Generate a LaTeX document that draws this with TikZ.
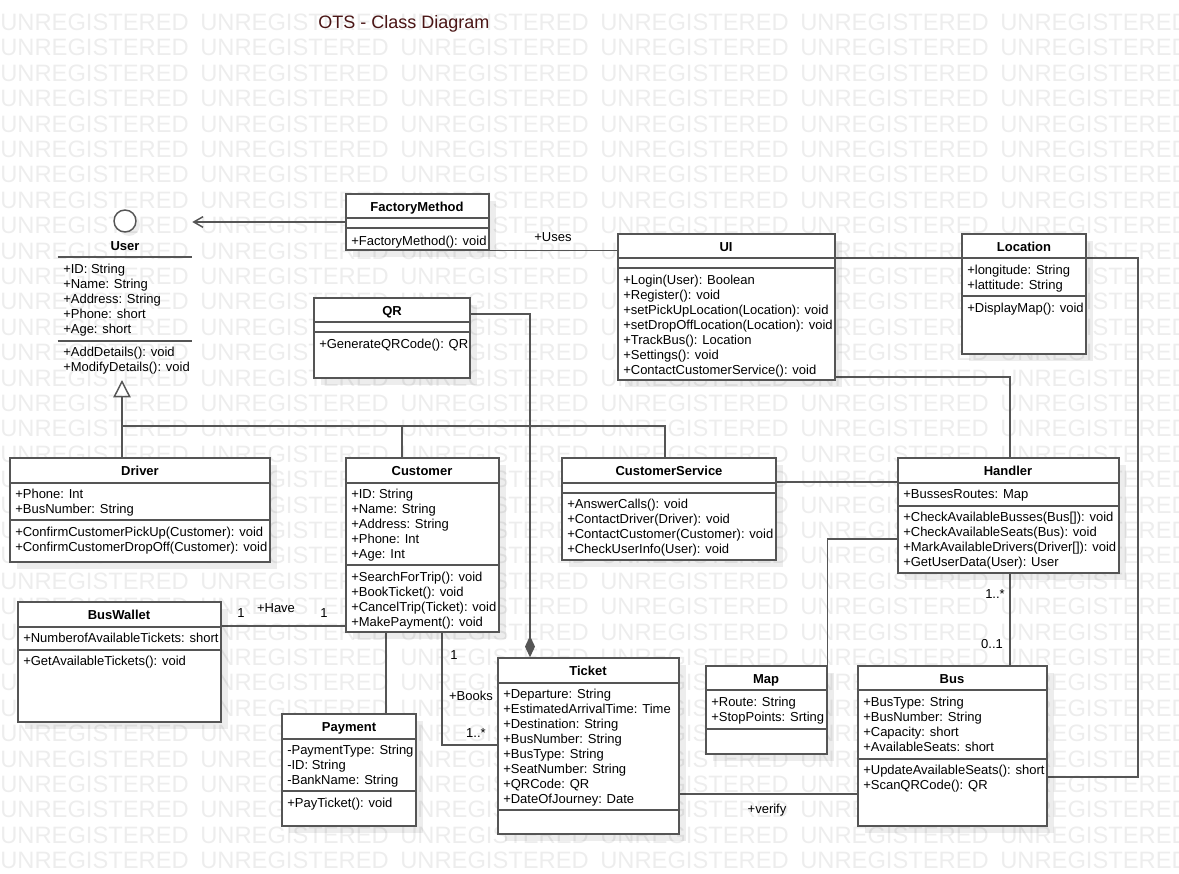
\documentclass[tikz,border=0pt]{standalone}
\usepackage{fontspec}
\setmainfont{Liberation Sans}
\usepackage{xcolor}
\usetikzlibrary{arrows.meta,fit,shadows,backgrounds}

\definecolor{edgegray}{HTML}{555555}
\definecolor{markgray}{HTML}{EDEDED}
\definecolor{titlebrown}{HTML}{4A1515}

\tikzset{
  classbox/.style={draw=edgegray, line width=1.1pt, fill=white, inner sep=0pt,
    drop shadow={shadow xshift=5pt, shadow yshift=-5pt, fill=black, opacity=0.07}},
  sepline/.style={draw=edgegray, line width=1.1pt},
  link/.style={draw=edgegray, line width=1.1pt},
  cname/.style={font=\bfseries\fontsize{9.75}{11.25}\selectfont, anchor=base, inner sep=0pt},
  members/.style={font=\fontsize{9.75}{11.25}\selectfont, anchor=north west, align=left, inner sep=0pt, yshift=-0.75pt},
  role/.style={font=\fontsize{9.75}{11.25}\selectfont, anchor=base, inner sep=0pt},
  wmark/.style={font=\fontsize{17.8}{20}\selectfont, text=markgray, anchor=base west, inner sep=0pt}
}

\newcommand{\classlines}[2]{\foreach \yy in {#2}{\draw[sepline] (#1.west |- 0,\yy) -- (#1.east |- 0,\yy);}}

\begin{document}
\begin{tikzpicture}[x=0.75pt, y=-0.75pt]
    \useasboundingbox (0,0) rectangle (1179,874);
    \begin{scope}[on background layer]
        \foreach \r in {0,...,33}{
        \foreach \c in {0,...,5}{
        \node[wmark] (wm-\r-\c) at (200*\c, 30.5+25.4*\r) {UNREGISTERED};}}
    \end{scope}
    \node[font=\fontsize{13.5}{16}\selectfont, text=titlebrown, anchor=base, inner sep=0pt] (diagram-title) at (404,28.5) {OTS - Class Diagram};

    % User interface
    \node[draw=edgegray, line width=1.1pt, fill=white, circle, minimum size=16.5pt, inner sep=0pt,
      drop shadow={shadow xshift=3pt, shadow yshift=-3pt, fill=black, opacity=0.07}] (user-icon) at (125,221) {};
    \node[inner sep=0pt, fit={(58,205) (192,380)}] (user) {};
    \node[cname] (user-name) at (125,250) {User};
    \node[members] (user-attrs) at (63,263) {+ID: String\\+Name: String\\+Address: String\\+Phone: short\\+Age: short};
    \node[members] (user-ops) at (63,346) {+AddDetails(): void\\+ModifyDetails(): void};
    \classlines{user}{257,341}

    % classes
    \node[classbox, fit={(346,194) (489,250)}] (fm) {};
    \node[cname] (fm-name) at (417,211) {FactoryMethod};
    \node[members] (fm-ops) at (351,235) {+FactoryMethod(): void};
    \classlines{fm}{218,228}

    \node[classbox, fit={(618,234) (835,380)}] (ui) {};
    \node[cname] (ui-name) at (726,251) {UI};
    \node[members] (ui-ops) at (623,274) {+Login(User): Boolean\\+Register(): void\\+setPickUpLocation(Location): void\\+setDropOffLocation(Location): void\\+TrackBus(): Location\\+Settings(): void\\+ContactCustomerService(): void};
    \classlines{ui}{258,268}

    \node[classbox, fit={(962,234) (1086,354)}] (loc) {};
    \node[cname] (loc-name) at (1024,251) {Location};
    \node[members] (loc-attrs) at (967,264) {+longitude: String\\+lattitude: String};
    \node[members] (loc-ops) at (967,302) {+DisplayMap(): void};
    \classlines{loc}{258,296}

    \node[classbox, fit={(314,298) (470,378)}] (qr) {};
    \node[cname] (qr-name) at (392,315) {QR};
    \node[members] (qr-ops) at (319,338) {+GenerateQRCode(): QR};
    \classlines{qr}{322,332}

    \node[classbox, fit={(10,458) (270,562)}] (driver) {};
    \node[cname] (driver-name) at (140,475) {Driver};
    \node[members] (driver-attrs) at (15,488) {+Phone: Int\\+BusNumber: String};
    \node[members] (driver-ops) at (15,526) {+ConfirmCustomerPickUp(Customer): void\\+ConfirmCustomerDropOff(Customer): void};
    \classlines{driver}{483,520}

    \node[classbox, fit={(346,458) (499,632)}] (customer) {};
    \node[cname] (customer-name) at (422,475) {Customer};
    \node[members] (customer-attrs) at (351,488) {+ID: String\\+Name: String\\+Address: String\\+Phone: Int\\+Age: Int};
    \node[members] (customer-ops) at (351,571) {+SearchForTrip(): void\\+BookTicket(): void\\+CancelTrip(Ticket): void\\+MakePayment(): void};
    \classlines{customer}{483,565}

    \node[classbox, fit={(562,458) (776,560)}] (cs) {};
    \node[cname] (cs-name) at (669,475) {CustomerService};
    \node[members] (cs-ops) at (567,498) {+AnswerCalls(): void\\+ContactDriver(Driver): void\\+ContactCustomer(Customer): void\\+CheckUserInfo(User): void};
    \classlines{cs}{483,493}

    \node[classbox, fit={(898,458) (1119,573)}] (handler) {};
    \node[cname] (handler-name) at (1008,475) {Handler};
    \node[members] (handler-attrs) at (903,488) {+BussesRoutes: Map};
    \node[members] (handler-ops) at (903,511) {+CheckAvailableBusses(Bus[]): void\\+CheckAvailableSeats(Bus): void\\+MarkAvailableDrivers(Driver[]): void\\+GetUserData(User): User};
    \classlines{handler}{483,506}

    \node[classbox, fit={(18,602) (221,722)}] (wallet) {};
    \node[cname] (wallet-name) at (119,619) {BusWallet};
    \node[members] (wallet-attrs) at (23,632) {+NumberofAvailableTickets: short};
    \node[members] (wallet-ops) at (23,655) {+GetAvailableTickets(): void};
    \classlines{wallet}{627,650}

    \node[classbox, fit={(282,714) (416,826)}] (payment) {};
    \node[cname] (payment-name) at (349,731) {Payment};
    \node[members] (payment-attrs) at (287,744) {-PaymentType: String\\-ID: String\\-BankName: String};
    \node[members] (payment-ops) at (287,797) {+PayTicket(): void};
    \classlines{payment}{739,791}

    \node[classbox, fit={(498,658) (679,834)}] (ticket) {};
    \node[cname] (ticket-name) at (588,675) {Ticket};
    \node[members] (ticket-attrs) at (503,688) {+Departure: String\\+EstimatedArrivalTime: Time\\+Destination: String\\+BusNumber: String\\+BusType: String\\+SeatNumber: String\\+QRCode: QR\\+DateOfJourney: Date};
    \classlines{ticket}{683,810}

    \node[classbox, fit={(706,666) (827,754)}] (map) {};
    \node[cname] (map-name) at (766,683) {Map};
    \node[members] (map-attrs) at (711,696) {+Route: String\\+StopPoints: Srting};
    \classlines{map}{690,729}

    \node[classbox, fit={(858,666) (1047,826)}] (bus) {};
    \node[cname] (bus-name) at (952,683) {Bus};
    \node[members] (bus-attrs) at (863,696) {+BusType: String\\+BusNumber: String\\+Capacity: short\\+AvailableSeats: short};
    \node[members] (bus-ops) at (863,764) {+UpdateAvailableSeats(): short\\+ScanQRCode(): QR};
    \classlines{bus}{690,759}

    % relations
    \coordinate (gen-tip) at (122,380);
    \coordinate (gen-bar) at (122,426);
    \begin{scope}[on background layer]
        \draw[link, -{Straight Barb[length=7pt, width=8pt]}] (fm.west) -- (fm.west -| user.east);
        \draw[link] (fm.south east) -- (fm.south east -| ui.west);
        \draw[link] (ui.east |- 0,258) -- (1138,258) |- (bus.east |- 0,777);
        \draw[link] (ui.east |- 0,377) -| (handler.north -| 1010,0);
        \draw[link, -{Diamond[length=16pt, width=7.5pt]}] (qr.east |- 0,314) -| (ticket.north -| 530,0);
        \draw[link, -{Triangle[open, length=13pt, width=13pt]}] (gen-bar |- driver.north) -- (gen-tip);
        \draw[link] (customer.north -| 402,0) |- (gen-bar);
        \draw[link] (cs.north -| 665,0) |- (gen-bar);
        \draw[link] (cs.east |- 0,482) -- (handler.west |- 0,482);
        \draw[link] (handler.west |- 0,539) -| (map.north east);
        \draw[link] (handler.south -| 1010,0) -- (bus.north -| 1010,0);
        \draw[link] (ticket.east |- 0,794) -- (bus.west |- 0,794);
        \draw[link] (customer.south -| 442,0) |- (ticket.west |- 0,745);
        \draw[link] (customer.south -| 386,0) -- (payment.north -| 386,0);
        \draw[link] (wallet.east |- 0,626) -- (customer.west |- 0,626);
    \end{scope}
    \node[role] (uses-label) at (553,241) {+Uses};
    \node[role] (handler-mult) at (995,598) {1..*};
    \node[role] (bus-mult) at (992,648) {0..1};
    \node[role] (verify-label) at (767,813) {+verify};
    \node[role] (books-from) at (454,659) {1};
    \node[role] (books-label) at (471,700) {+Books};
    \node[role] (books-to) at (476,737) {1..*};
    \node[role] (have-from) at (241,617) {1};
    \node[role] (have-label) at (276,612) {+Have};
    \node[role] (have-to) at (324,617) {1};
\end{tikzpicture}
\end{document}
